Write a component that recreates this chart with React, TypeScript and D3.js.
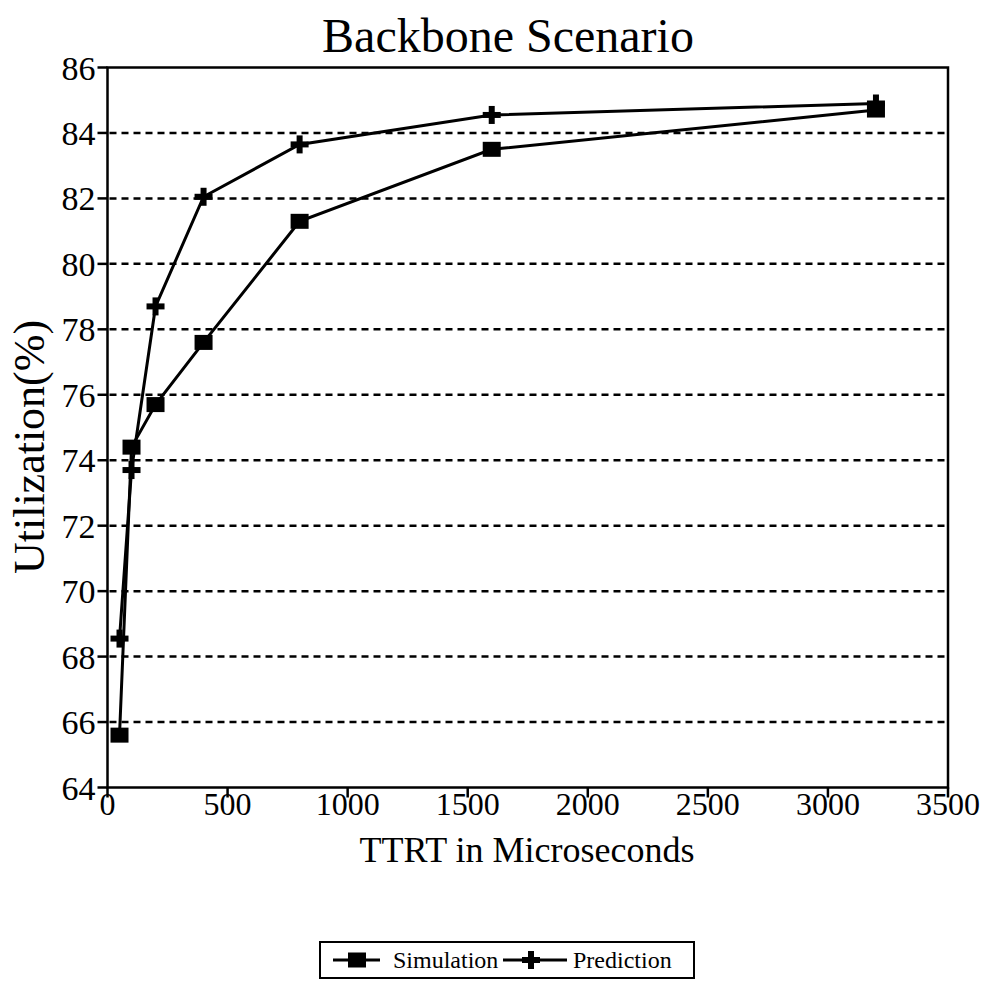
import React from "react";
import * as d3 from "d3";

const ttrt = [50, 100, 200, 400, 800, 1600, 3200];
const simulation = [65.6, 74.4, 75.7, 77.6, 81.3, 83.5, 84.7];
const prediction = [68.55, 73.7, 78.7, 82.05, 83.65, 84.55, 84.9];
const xTicks = [0, 500, 1000, 1500, 2000, 2500, 3000, 3500];
const yTicks = [64, 66, 68, 70, 72, 74, 76, 78, 80, 82, 84, 86];
const gridValues = [66, 68, 70, 72, 74, 76, 78, 80, 82, 84];

const W = 992;
const H = 983;
const left = 107.5;
const right = 948;
const top = 67.5;
const bottom = 787.5;
const FONT = "Liberation Serif, Times New Roman, Times, DejaVu Serif, serif";
const ts = { fontFamily: FONT };

function Square({ x, y }: { x: number; y: number }) {
  return <rect x={x - 9} y={y - 7.5} width={18} height={15} fill="#000" />;
}

function Plus({ x, y }: { x: number; y: number }) {
  return (
    <g fill="#000">
      <rect x={x - 9} y={y - 3} width={18} height={6} />
      <rect x={x - 3} y={y - 9} width={6} height={18} />
    </g>
  );
}

export default function App() {
  const x = d3.scaleLinear().domain([0, 3500]).range([left, right]);
  const y = d3.scaleLinear().domain([64, 86]).range([bottom, top]);
  const line = d3
    .line<[number, number]>()
    .x((d) => x(d[0]))
    .y((d) => y(d[1]));
  const simPts: [number, number][] = ttrt.map((t, i) => [t, simulation[i]]);
  const predPts: [number, number][] = ttrt.map((t, i) => [t, prediction[i]]);

  return (
    <svg
      width={W}
      height={H}
      style={{ position: "absolute", left: 0, top: 0, background: "#fff", fontFamily: FONT }}
    >
      <rect x={0} y={0} width={W} height={H} fill="#fff" />
      <text x={508} y={52} fontSize={48} textAnchor="middle" fill="#000" style={ts}>
        Backbone Scenario
      </text>

      {gridValues.map((v) => (
        <line
          key={v}
          x1={left + 2}
          x2={right}
          y1={y(v)}
          y2={y(v)}
          stroke="#000"
          strokeWidth={2.5}
          strokeDasharray="7,5"
        />
      ))}

      <rect
        x={left}
        y={top}
        width={right - left}
        height={bottom - top}
        fill="none"
        stroke="#000"
        strokeWidth={2.5}
      />

      {yTicks.map((v) => (
        <g key={v}>
          <line x1={left - 10} x2={left} y1={y(v)} y2={y(v)} stroke="#000" strokeWidth={2.5} />
          <text x={left - 12} y={y(v) + 12} fontSize={34} textAnchor="end" fill="#000" style={ts}>
            {v}
          </text>
        </g>
      ))}
      {xTicks.map((v) => (
        <g key={v}>
          <line x1={x(v)} x2={x(v)} y1={bottom} y2={bottom + 10} stroke="#000" strokeWidth={2.5} />
          <text x={x(v)} y={815} fontSize={32} textAnchor="middle" fill="#000" style={ts}>
            {v}
          </text>
        </g>
      ))}

      <text x={527} y={862} fontSize={36} textAnchor="middle" fill="#000" style={ts}>
        TTRT in Microseconds
      </text>
      <text
        transform="translate(44,447) rotate(-90)"
        fontSize={44}
        textAnchor="middle"
        fill="#000"
        style={ts}
      >
        Utilization(%)
      </text>

      <path d={line(simPts) || ""} fill="none" stroke="#000" strokeWidth={3} />
      <path d={line(predPts) || ""} fill="none" stroke="#000" strokeWidth={3} />
      {simPts.map((d, i) => (
        <Square key={"s" + i} x={x(d[0])} y={y(d[1])} />
      ))}
      {predPts.map((d, i) => (
        <Plus key={"p" + i} x={x(d[0])} y={y(d[1])} />
      ))}

      <rect x={320} y={942} width={374} height={36} fill="none" stroke="#000" strokeWidth={2} />
      <line x1={333} x2={380} y1={960} y2={960} stroke="#000" strokeWidth={3} />
      <Square x={357} y={960} />
      <text x={393} y={968} fontSize={24} fill="#000" style={ts}>
        Simulation
      </text>
      <line x1={503} x2={567} y1={960} y2={960} stroke="#000" strokeWidth={3} />
      <Plus x={531} y={960} />
      <text x={573} y={968} fontSize={24} fill="#000" style={ts}>
        Prediction
      </text>
    </svg>
  );
}
